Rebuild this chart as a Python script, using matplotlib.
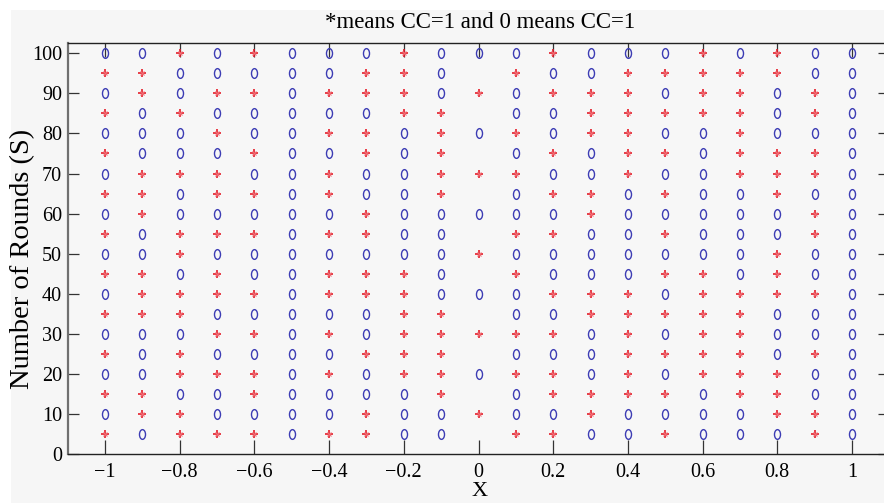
import numpy as np
import matplotlib
matplotlib.use("Agg")
import matplotlib.pyplot as plt
from matplotlib.path import Path
from matplotlib.transforms import Affine2D
from matplotlib.patches import Rectangle

# ---- data ----
x_values = [round(-1 + 0.1 * i, 1) for i in range(21)]
y_values = [100, 95, 90, 85, 80, 75, 70, 65, 60, 55, 50, 45, 40, 35, 30, 25, 20, 15, 10, 5]
# '*' -> CC=1 (red star), 'o' -> 0 (blue circle), '_' -> no mark
# columns: -1 ... 1 step 0.1
rows = [
    "oo*o*oo" "o*ooo*o" "oo*o*oo",   # 100
    "**ooooo" "**o_*oo" "*****oo",   # 95
    "o*o**o*" "**o*o**" "*o**o*o",   # 90
    "*o*oooo" "o**_oo*" "****o*o",   # 85
    "ooo*oo*" "*o*o*o*" "*oo*ooo",   # 80
    "*ooo*oo" "*o*_o*o" "**o***o",   # 75
    "o***oo*" "oo***oo" "*oo***o",   # 70
    "**o**o*" "oo*_o**" "o*oo*oo",   # 65
    "o*ooooo" "*ooooo*" "ooooo*o",   # 60
    "*o***o*" "*oo_**o" "o*ooo*o",   # 55
    "oo*oooo" "ooo*ooo" "oooo*oo",   # 50
    "**o*oo*" "**o_*oo" "o**o*oo",   # 45
    "o****o*" "**ooo**" "*o****o",   # 40
    "***oooo" "o**_oo*" "****ooo",   # 35
    "ooo**o*" "o*****o" "*o**ooo",   # 30
    "*o*oooo" "***_ooo" "****o*o",   # 25
    "oo***o*" "o**o**o" "*o***oo",   # 20
    "**oo*oo" "oo*_o**" "**o**oo",   # 15
    "o**oooo" "*oo*oo*" "oooo**o",   # 10
    "*o***o*" "*oo_**o" "o*ooo*o",   # 5
]
title_text = "*means CC=1 and 0 means CC=1"
x_label = "X"
y_label = "Number of Rounds (S)"
x_ticks = [-1, -0.8, -0.6, -0.4, -0.2, 0, 0.2, 0.4, 0.6, 0.8, 1]
x_tick_labels = ["\u22121", "\u22120.8", "\u22120.6", "\u22120.4", "\u22120.2", "0",
                 "0.2", "0.4", "0.6", "0.8", "1"]
y_ticks = [0, 10, 20, 30, 40, 50, 60, 70, 80, 90, 100]

# ---- build point lists ----
sx, sy, ox, oy = [], [], [], []
for yv, r in zip(y_values, rows):
    for xv, c in zip(x_values, r):
        if c == "*":
            sx.append(xv); sy.append(yv)
        elif c == "o":
            ox.append(xv); oy.append(yv)

W, H = 884, 503
fig = plt.figure(figsize=(W / 100, H / 100), dpi=100)
fig.patch.set_facecolor("white")
fig.patches.append(Rectangle((11 / W, 0), 1 - 11 / W, 1 - 10 / H, transform=fig.transFigure,
                             facecolor="#f6f6f6", edgecolor="none", zorder=-10))

ax = fig.add_axes([67.65 / W, (H - 454.4) / H, 821.7 / W, 411.7 / H])
ax.set_facecolor("#f7f7f7")
ax.set_xlim(-1.1, 1.1)
ax.set_ylim(0, 102.6)

ell = Path.unit_circle().transformed(Affine2D().scale(0.62, 1.0))
ax.plot(ox, oy, linestyle="none", marker=ell, markersize=7, markerfacecolor="none",
        markeredgecolor="#3c3cb4", markeredgewidth=1.0, zorder=3)
ax.plot(sx, sy, linestyle="none", marker="+", markersize=6, markeredgecolor="#e41e2a",
        markeredgewidth=1.2, zorder=3)
ax.plot(sx, sy, linestyle="none", marker="x", markersize=3.5, markeredgecolor="#f07078",
        markeredgewidth=0.8, zorder=3)

serif = ["Liberation Serif", "DejaVu Serif"]
ax.set_xticks(x_ticks)
ax.set_xticklabels(x_tick_labels, family=serif, fontsize=14.5)
ax.set_yticks(y_ticks)
ax.set_yticklabels([str(v) for v in y_ticks], family=serif, fontsize=14.5)
ax.tick_params(axis="x", direction="in", length=10, width=0.9, color="#333333",
               top=True, bottom=True, pad=6)
ax.tick_params(axis="y", direction="in", length=8, width=0.9, color="#333333",
               left=True, right=True, pad=4)
for s in ["top", "bottom", "right"]:
    ax.spines[s].set_color("#222222")
    ax.spines[s].set_linewidth(1.0)
ax.spines["left"].set_color("#707070")
ax.spines["left"].set_linewidth(1.6)

fig.text(480 / W, 1 - 22 / H, title_text, family=serif, fontsize=16.5,
         ha="center", va="center")
fig.text(480 / W, 1 - 492 / H, x_label, family=serif, fontsize=16,
         ha="center", va="center")
fig.text(23 / W, 1 - 259 / H, y_label, family=serif, fontsize=20.5,
         ha="center", va="center", rotation=90)

fig.savefig("out.png", dpi=100)
